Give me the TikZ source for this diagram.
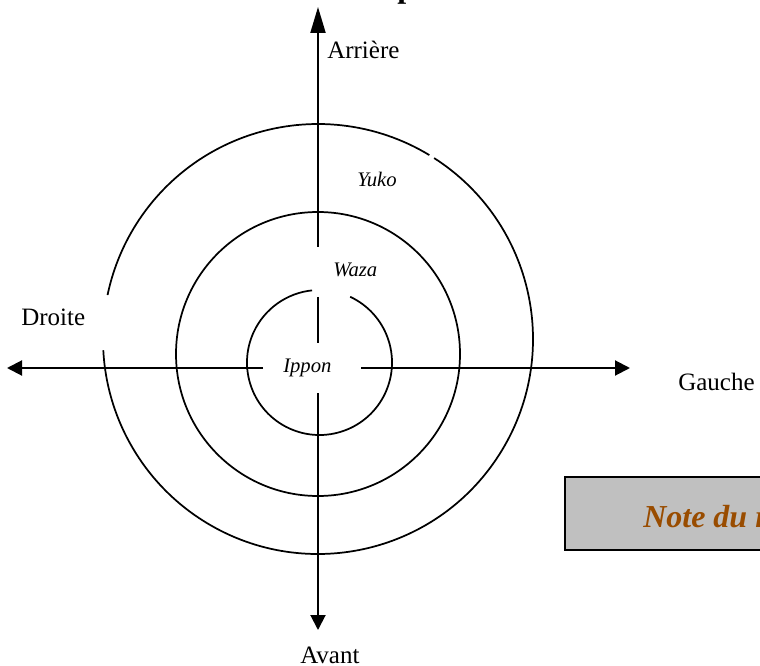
\documentclass[tikz,border=0pt]{standalone}
\usepackage{fontspec}
\setmainfont{Liberation Serif}
\usepackage{xcolor}
\usetikzlibrary{arrows.meta}
\definecolor{notebrown}{RGB}{153,76,0}
\definecolor{notegray}{RGB}{192,192,192}

\begin{document}
\begin{tikzpicture}[
        x=0.75pt, y=-0.75pt,
        axis/.style={line width=1.5pt, -{Triangle[length=11.25pt, width=11.25pt]}},
        ring/.style={line width=1.3pt},
        word/.style={inner sep=0pt, anchor=base west, font=\fontsize{18.75}{22}\selectfont},
        zone/.style={inner sep=0pt, anchor=base west, font=\fontsize{15.5}{18}\selectfont\itshape}
    ]
        \useasboundingbox (0,0) rectangle (760,666);
        \clip (0,0) rectangle (760,666);

        % Axis ends
        \coordinate (top) at (318,7);
        \coordinate (topgap) at (318,247);
        \coordinate (midA) at (318,297);
        \coordinate (midB) at (318,343);
        \coordinate (botgap) at (318,393);
        \coordinate (bot) at (318,630);
        \coordinate (left) at (7,368);
        \coordinate (leftgap) at (263,368);
        \coordinate (rightgap) at (361,368);
        \coordinate (right) at (630,368);

        % Ring centres
        \coordinate (outer) at (318,339);
        \coordinate (middle) at (318,354);
        \coordinate (inner) at (319.5,362.5);

        % Rings
        \draw[ring] (outer) ++(-57.3:215) arc[start angle=-57.3, end angle=177, radius=215];
        \draw[ring] (outer) ++(191.8:215) arc[start angle=191.8, end angle=301.2, radius=215];
        \draw[ring] (middle) circle[radius=142];
        \draw[ring] (inner) ++(-65:72.5) arc[start angle=-65, end angle=264.1, radius=72.5];

        % Arrows
        \draw[axis, -{Triangle[length=19.5pt, width=11.25pt]}] (topgap) -- (top);
        \draw[line width=1.5pt] (midA) -- (midB);
        \draw[axis] (botgap) -- (bot);
        \draw[axis] (leftgap) -- (left);
        \draw[axis] (rightgap) -- (right);

        % Labels
        \node[word] (arriere) at (327,59) {Arrière};
        \node[word] (droite) at (21,326) {Droite};
        \node[word] (gauche) at (678,390) {Gauche};
        \node[word] (avant) at (300,663) {Avant};
        \node[zone] (yuko) at (357,187) {Yuko};
        \node[zone] (waza) at (333,277) {Waza};
        \node[zone] (ippon) at (283,373) {Ippon};

        % Title and note
        \node[inner sep=0pt, anchor=base west, font=\fontsize{24}{28}\selectfont\bfseries] (title) at (397,-2) {p};
        \draw[fill=notegray, line width=1.2pt] (565,477) rectangle (800,550);
        \node[inner sep=0pt, anchor=base west, text=notebrown,
              font=\fontsize{24}{28}\selectfont\bfseries\itshape] (note) at (643,527) {Note du r};
    \end{tikzpicture}
\end{document}
